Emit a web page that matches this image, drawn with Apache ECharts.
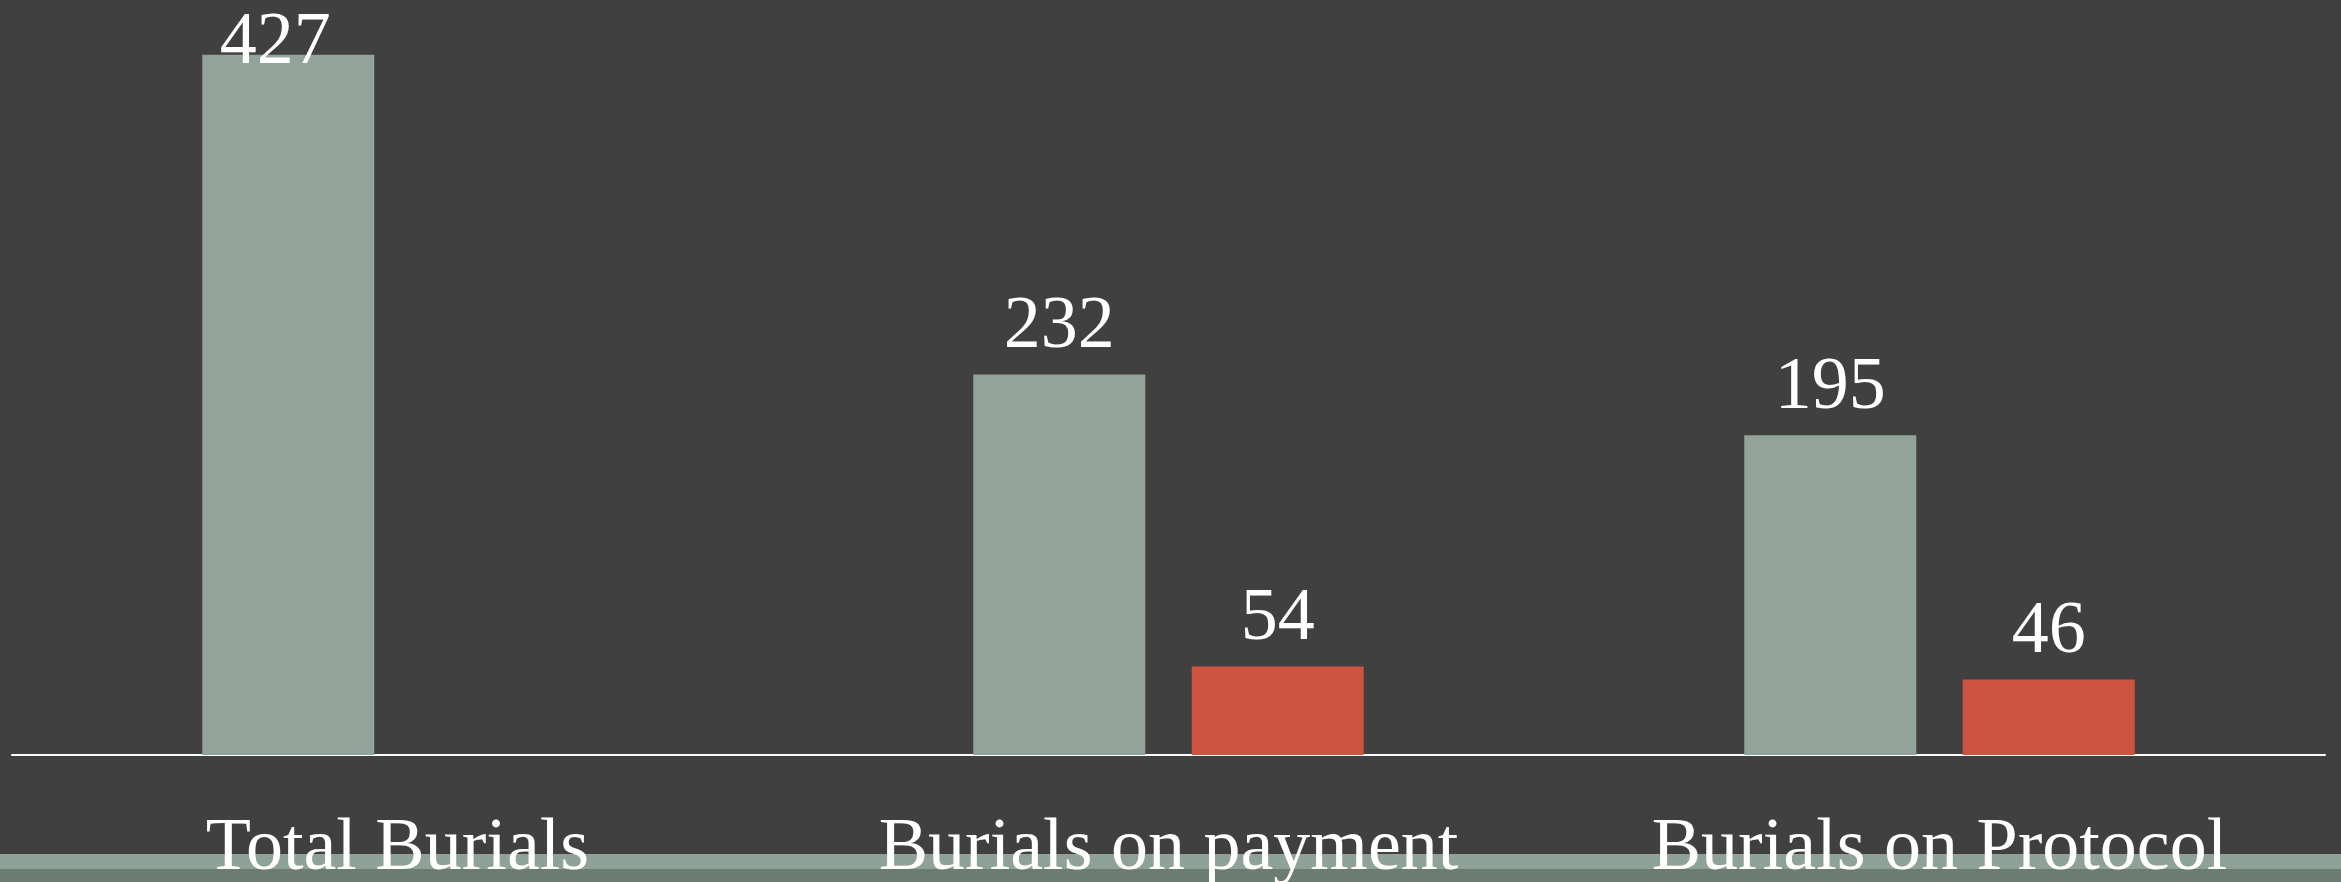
<!DOCTYPE html>
<html lang="en">
<head>
    <meta charset="utf-8">
    <title>Burials</title>
    <script src="https://cdn.jsdelivr.net/npm/echarts@6/dist/echarts.min.js"></script>
    <style>
        html, body { margin: 0; padding: 0; background: #404040; }
        #chart { width: 2341px; height: 882px; }
    </style>
</head>
<body>
    <div id="chart"></div>
    <script>
        // Data
        const categories = ['Total Burials', 'Burials on payment', 'Burials on Protocol'];
        const totalValues = [427, 232, 195];
        const secondValues = ['-', 54, 46];

        const serif = "'Liberation Serif', 'Times New Roman', serif";
        const chart = echarts.init(document.getElementById('chart'));

        chart.setOption({
            backgroundColor: '#404040',
            animation: false,
            grid: { left: 12, right: 16, top: 17, bottom: 127, containLabel: false, outerBoundsMode: 'none' },
            // decorative strips at the bottom of the slide
            graphic: [
                { type: 'rect', left: 0, top: 854, shape: { width: 2341, height: 15 }, style: { fill: '#8fa297' }, z: -1 },
                { type: 'rect', left: 0, top: 869, shape: { width: 2341, height: 13 }, style: { fill: '#6b7c72' }, z: -1 }
            ],
            xAxis: {
                type: 'category',
                data: categories,
                axisLine: { lineStyle: { color: '#ffffff', width: 2 } },
                axisTick: { show: false },
                axisLabel: {
                    color: '#ffffff',
                    fontFamily: serif,
                    fontSize: 74,
                    margin: 58
                }
            },
            yAxis: {
                type: 'value',
                min: 0,
                max: 450,
                show: false,
                splitLine: { show: false }
            },
            series: [
                {
                    type: 'bar',
                    barWidth: 172,
                    barGap: '27%',
                    itemStyle: { color: '#92a399' },
                    label: {
                        show: true,
                        position: 'top',
                        distance: 10,
                        color: '#ffffff',
                        fontFamily: serif,
                        fontSize: 74
                    },
                    data: totalValues.map(function (v, i) {
                        // the tallest label is pushed down so it stays on the slide
                        if (i === 0) return { value: v, label: { offset: [-13, 36] } };
                        return v;
                    })
                },
                {
                    type: 'bar',
                    barWidth: 172,
                    barGap: '27%',
                    itemStyle: { color: '#cd5440' },
                    label: {
                        show: true,
                        position: 'top',
                        distance: 10,
                        color: '#ffffff',
                        fontFamily: serif,
                        fontSize: 74
                    },
                    data: secondValues
                }
            ]
        });
    </script>
</body>
</html>
